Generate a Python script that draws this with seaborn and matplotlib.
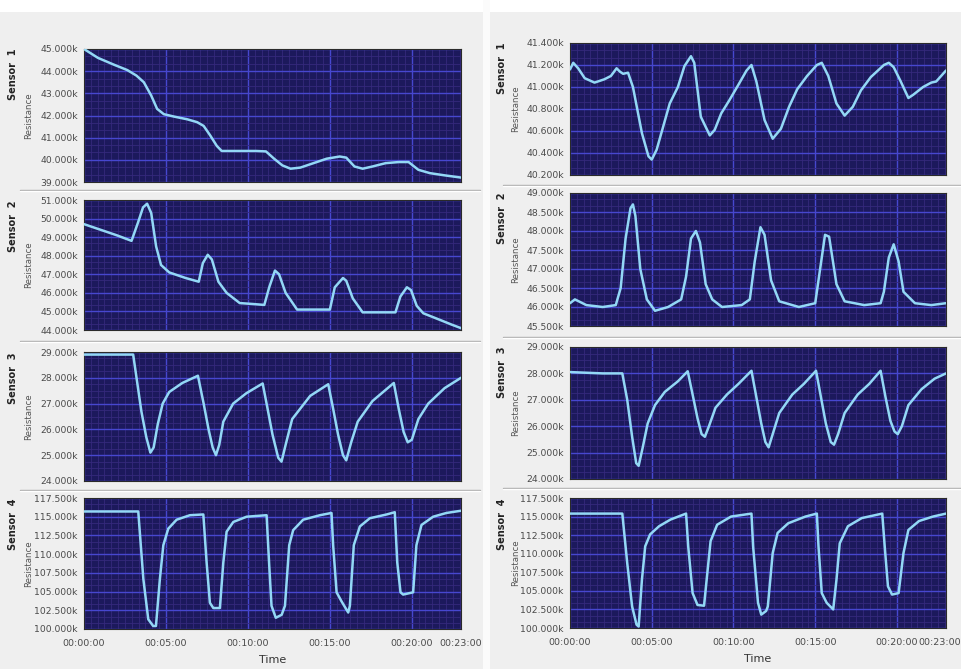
import matplotlib
matplotlib.use("Agg")
import matplotlib.pyplot as plt
import matplotlib.transforms as mtransforms
import seaborn as sns
import pandas as pd
from matplotlib.ticker import FixedLocator, MultipleLocator, FuncFormatter, AutoMinorLocator
from matplotlib.lines import Line2D
from matplotlib.patches import Rectangle

# ---------------- data (time in minutes, resistance in ohms) ----------------
time_ticks = [0, 5, 10, 15, 20, 23]
time_labels = ["00:00:00", "00:05:00", "00:10:00", "00:15:00", "00:20:00", "00:23:00"]

# Left column
L1_t = [0, 0.85, 1.8, 2.64, 3.2, 3.65, 4.1, 4.46, 4.87, 5.5, 6.29, 6.9, 7.3, 7.7, 8.1, 8.4, 9.5, 10.5,
        11.1, 11.6, 12.1, 12.6, 13.2, 14.0, 14.8, 15.6, 16.0, 16.5, 17.0, 17.6, 18.4, 19.2, 19.8, 20.4,
        21.1, 22.0, 23.0]
L1_v = [45000, 44600, 44300, 44050, 43800, 43500, 42900, 42300, 42060, 41950, 41830, 41700, 41530,
        41100, 40630, 40400, 40400, 40400, 40380, 40050, 39750, 39600, 39650, 39850, 40050, 40150,
        40100, 39700, 39600, 39700, 39850, 39900, 39900, 39550, 39400, 39300, 39200]

L2_t = [0, 1.0, 2.0, 2.9, 3.3, 3.6, 3.85, 4.1, 4.4, 4.7, 5.2, 6.2, 7.0, 7.25, 7.55, 7.8, 8.2, 8.7,
        9.5, 10.3, 11.0, 11.3, 11.65, 11.9, 12.3, 13.0, 14.0, 15.0, 15.3, 15.8, 16.0, 16.4, 17.0,
        18.0, 19.0, 19.3, 19.7, 19.95, 20.3, 20.7, 21.7, 22.4, 23.0]
L2_v = [49700, 49400, 49100, 48800, 49800, 50600, 50800, 50300, 48500, 47500, 47100, 46800, 46600,
        47600, 48050, 47800, 46600, 46000, 45450, 45400, 45350, 46300, 47200, 47000, 46000, 45100,
        45100, 45100, 46300, 46800, 46650, 45700, 44950, 44950, 44950, 45800, 46300, 46150, 45300,
        44900, 44550, 44300, 44100]

L3_t = [0, 2.0, 3.0, 3.25, 3.5, 3.8, 4.05, 4.25, 4.5, 4.8, 5.2, 6.0, 6.95, 7.3, 7.6, 7.85, 8.05,
        8.25, 8.5, 9.1, 9.9, 10.9, 11.2, 11.5, 11.85, 12.05, 12.3, 12.7, 13.8, 14.9, 15.2, 15.5, 15.8,
        16.0, 16.3, 16.7, 17.6, 18.9, 19.2, 19.5, 19.75, 20.0, 20.4, 21.0, 22.0, 23.0]
L3_v = [28900, 28900, 28900, 27800, 26700, 25700, 25100, 25300, 26200, 27000, 27450, 27800, 28080,
        27000, 26000, 25300, 25000, 25400, 26300, 27000, 27400, 27780, 26800, 25800, 24900, 24750,
        25400, 26400, 27300, 27750, 26800, 25800, 25000, 24800, 25500, 26300, 27100, 27800, 26800,
        25900, 25500, 25600, 26400, 27000, 27600, 28000]

L4_t = [0, 3.31, 3.62, 3.92, 4.22, 4.39, 4.63, 4.84, 5.14, 5.65, 6.46, 7.28, 7.48, 7.68, 7.89, 8.29,
        8.5, 8.7, 9.11, 9.92, 11.14, 11.30, 11.44, 11.7, 12.06, 12.26, 12.52, 12.76, 13.37, 14.39,
        15.1, 15.2, 15.41, 15.71, 16.12, 16.22, 16.46, 16.83, 17.44, 18.46, 18.96, 19.11, 19.31,
        19.47, 20.08, 20.28, 20.59, 21.3, 22.11, 23.0]
L4_v = [115700, 115700, 106700, 101300, 100400, 100400, 106700, 111200, 113400, 114600, 115200,
        115300, 108900, 103500, 102800, 102800, 108900, 113000, 114300, 115000, 115200, 108500,
        103100, 101500, 101900, 103100, 111200, 113200, 114600, 115200, 115500, 111200, 104900,
        103700, 102200, 103100, 111200, 113700, 114800, 115300, 115600, 108900, 104900, 104600,
        104900, 111200, 113900, 115000, 115500, 115800]

# Right column
R1_t = [0, 0.2, 0.5, 0.9, 1.5, 2.1, 2.5, 2.85, 3.05, 3.25, 3.55, 3.85, 4.4, 4.8, 5.0, 5.3, 5.7, 6.1,
        6.6, 7.0, 7.4, 7.6, 8.0, 8.55, 8.85, 9.25, 9.75, 10.3, 10.8, 11.1, 11.4, 11.9, 12.4, 12.9,
        13.4, 13.9, 14.5, 15.1, 15.4, 15.8, 16.3, 16.8, 17.3, 17.8, 18.4, 19.2, 19.5, 19.8, 20.2,
        20.7, 21.0, 21.6, 22.1, 22.4, 23.0]
R1_v = [41160, 41220, 41170, 41080, 41040, 41070, 41100, 41170, 41140, 41120, 41130, 41000, 40580,
        40370, 40340, 40430, 40640, 40850, 41000, 41190, 41280, 41220, 40730, 40560, 40610, 40760,
        40880, 41020, 41150, 41200, 41050, 40700, 40530, 40620, 40820, 40980, 41100, 41200, 41220,
        41100, 40850, 40740, 40820, 40970, 41090, 41200, 41220, 41180, 41060, 40900, 40930, 41000,
        41040, 41050, 41150]

R2_t = [0, 0.3, 1.0, 2.0, 2.8, 3.1, 3.4, 3.7, 3.85, 4.0, 4.3, 4.7, 5.2, 6.0, 6.8, 7.1, 7.4, 7.7,
        7.95, 8.3, 8.7, 9.3, 10.5, 11.0, 11.3, 11.65, 11.9, 12.3, 12.8, 14.0, 15.0, 15.3, 15.6, 15.85,
        16.3, 16.8, 18.0, 19.0, 19.2, 19.5, 19.8, 20.1, 20.4, 21.1, 22.1, 23.0]
R2_v = [46100, 46200, 46050, 46000, 46050, 46500, 47800, 48600, 48700, 48400, 47000, 46200, 45900,
        46000, 46200, 46800, 47800, 48000, 47700, 46600, 46200, 46000, 46050, 46200, 47200, 48100,
        47900, 46700, 46150, 46000, 46100, 47000, 47900, 47850, 46600, 46150, 46050, 46100, 46400,
        47300, 47650, 47200, 46400, 46100, 46050, 46100]

R3_t = [0, 2.0, 3.2, 3.5, 3.8, 4.05, 4.2, 4.45, 4.75, 5.2, 5.8, 6.6, 7.2, 7.5, 7.8, 8.05, 8.25, 8.5,
        8.9, 9.6, 10.3, 11.1, 11.4, 11.7, 11.95, 12.15, 12.4, 12.8, 13.6, 14.3, 15.05, 15.35, 15.65,
        15.95, 16.15, 16.4, 16.8, 17.6, 18.3, 19.0, 19.3, 19.6, 19.85, 20.05, 20.3, 20.7, 21.5, 22.3,
        23.0]
R3_v = [28050, 28000, 28000, 27000, 25600, 24600, 24500, 25200, 26100, 26800, 27300, 27700, 28080,
        27200, 26300, 25700, 25600, 26000, 26700, 27200, 27600, 28100, 27100, 26100, 25400, 25200,
        25700, 26500, 27200, 27600, 28100, 27100, 26100, 25400, 25300, 25700, 26500, 27200, 27600,
        28100, 27100, 26200, 25800, 25700, 26000, 26800, 27400, 27800, 28000]

R4_t = [0, 3.2, 3.5, 3.8, 4.07, 4.2, 4.4, 4.6, 4.9, 5.45, 6.15, 7.1, 7.23, 7.5, 7.8, 8.2, 8.4, 8.6,
        9.0, 9.85, 11.1, 11.2, 11.5, 11.7, 12.0, 12.1, 12.4, 12.7, 13.35, 14.4, 15.1, 15.2, 15.4,
        15.7, 16.1, 16.3, 16.5, 17.0, 17.85, 19.1, 19.25, 19.45, 19.7, 20.1, 20.4, 20.7, 21.35, 22.2,
        23.0]
R4_v = [115400, 115400, 108750, 102900, 100450, 100200, 106500, 111000, 112600, 113700, 114600,
        115400, 111000, 104700, 103100, 103000, 107400, 111700, 113900, 115000, 115400, 111000,
        103400, 101800, 102300, 102900, 110100, 112800, 114100, 115000, 115400, 111000, 104700,
        103400, 102500, 106500, 111400, 113700, 114800, 115400, 111000, 105600, 104500, 104700,
        110100, 113200, 114400, 115000, 115400]

sensor_names = ["Sensor  1", "Sensor  2", "Sensor  3", "Sensor  4"]
left_series = [(L1_t, L1_v), (L2_t, L2_v), (L3_t, L3_v), (L4_t, L4_v)]
right_series = [(R1_t, R1_v), (R2_t, R2_v), (R3_t, R3_v), (R4_t, R4_v)]
left_ylims = [(39000, 45000, 1000), (44000, 51000, 1000), (24000, 29000, 1000), (100000, 117500, 2500)]
right_ylims = [(40200, 41400, 200), (45500, 49000, 500), (24000, 29000, 1000), (100000, 117500, 2500)]

# ---------------- layout (pixels) ----------------
W, H = 962, 669
sns.set_style("white")
plt.rcParams['font.family'] = ['DejaVu Sans']

fig = plt.figure(figsize=(W / 100, H / 100), dpi=100, facecolor='#efefef')

def fx(px):
    return px / W

def fy(py):
    return 1 - py / H

fig.patches.append(Rectangle((0, fy(12)), 1, 12 / H, transform=fig.transFigure,
                             facecolor='white', edgecolor='none', zorder=0))
fig.patches.append(Rectangle((fx(483), 0), 7 / W, 1, transform=fig.transFigure,
                             facecolor='#fbfbfb', edgecolor='none', zorder=0))

left_x = (84, 461)
right_x = (570, 946)
left_rows = [(49, 182), (200, 330), (352, 481), (498, 629)]
right_rows = [(43, 175), (193, 326), (347, 479), (498, 628)]

BG = '#1c195c'
LINE = '#93d8f6'
MAJ = '#4747cf'
MIN = '#35297c'
TXT = '#4a4a4a'

def fmt_k(v, pos):
    return f"{v / 1000:.3f}k"

def make_panel(xr, yr, series, ylim, name, last, sens_x, res_x, shift_last):
    x0, x1 = xr
    y0, y1 = yr
    ax = fig.add_axes([fx(x0), fy(y1), (x1 - x0) / W, (y1 - y0) / H])
    ax.set_facecolor(BG)
    df = pd.DataFrame({"Time": series[0], "Resistance": series[1]})
    sns.lineplot(data=df, x="Time", y="Resistance", ax=ax, color=LINE, lw=1.8, zorder=3)
    lo, hi, step = ylim
    ax.set_xlim(0, 23)
    ax.set_ylim(lo, hi)
    yt = list(range(lo, hi + 1, step))
    ax.yaxis.set_major_locator(FixedLocator(yt))
    ax.yaxis.set_major_formatter(FuncFormatter(fmt_k))
    major_px = (y1 - y0) / (len(yt) - 1)
    ax.yaxis.set_minor_locator(AutoMinorLocator(max(2, round(major_px / 7))))
    ax.xaxis.set_major_locator(FixedLocator(time_ticks))
    ax.xaxis.set_minor_locator(MultipleLocator(5 / 12))
    if last:
        ax.set_xticklabels(time_labels)
        ax.set_xlabel("Time", fontsize=8, color='#333333', labelpad=5)
    else:
        ax.set_xticklabels([])
        ax.set_xlabel("")
    ax.set_ylabel("")
    ax.grid(which='minor', color=MIN, lw=0.6, zorder=1)
    ax.grid(which='major', color=MAJ, lw=1.0, zorder=2)
    ax.set_axisbelow(True)
    ax.tick_params(axis='y', which='major', length=3, width=0.8, color='#777777',
                   labelsize=6.7, labelcolor=TXT, pad=1.5)
    ax.tick_params(axis='y', which='minor', length=0)
    ax.tick_params(axis='x', which='major', length=4, width=0.9, color='#777777',
                   labelsize=6.8, labelcolor=TXT, pad=3)
    ax.tick_params(axis='x', which='minor', length=2.5, width=0.8, color='#999999')
    if last and shift_last:
        lab = ax.get_xticklabels()[-1]
        off = mtransforms.ScaledTranslation(-6 / 100, 0, fig.dpi_scale_trans)
        lab.set_transform(lab.get_transform() + off)
    for s in ax.spines.values():
        s.set_color('#2a2a2a')
        s.set_linewidth(0.8)
    fig.text(fx(sens_x), fy(y0), name, rotation=90, ha='center', va='top',
             fontsize=7, fontweight='bold', color='#222222')
    fig.text(fx(res_x), fy((y0 + y1) / 2), "Resistance", rotation=90, ha='center',
             va='center', fontsize=6.2, color='#555555')
    return ax

for i in range(4):
    make_panel(left_x, left_rows[i], left_series[i], left_ylims[i], sensor_names[i], i == 3, 13, 29, False)
    make_panel(right_x, right_rows[i], right_series[i], right_ylims[i], sensor_names[i], i == 3, 502, 516, True)

# separators between rows
for yy in (190, 341, 490):
    fig.add_artist(Line2D([fx(20), fx(480)], [fy(yy), fy(yy)], transform=fig.transFigure,
                          color='#aaaaaa', lw=1))
    fig.add_artist(Line2D([fx(20), fx(480)], [fy(yy + 1), fy(yy + 1)], transform=fig.transFigure,
                          color='white', lw=1))
for yy in (185, 337, 488):
    fig.add_artist(Line2D([fx(503), fx(962)], [fy(yy), fy(yy)], transform=fig.transFigure,
                          color='#aaaaaa', lw=1))
    fig.add_artist(Line2D([fx(503), fx(962)], [fy(yy + 1), fy(yy + 1)], transform=fig.transFigure,
                          color='white', lw=1))

fig.savefig("out.png", dpi=100, facecolor=fig.get_facecolor())
